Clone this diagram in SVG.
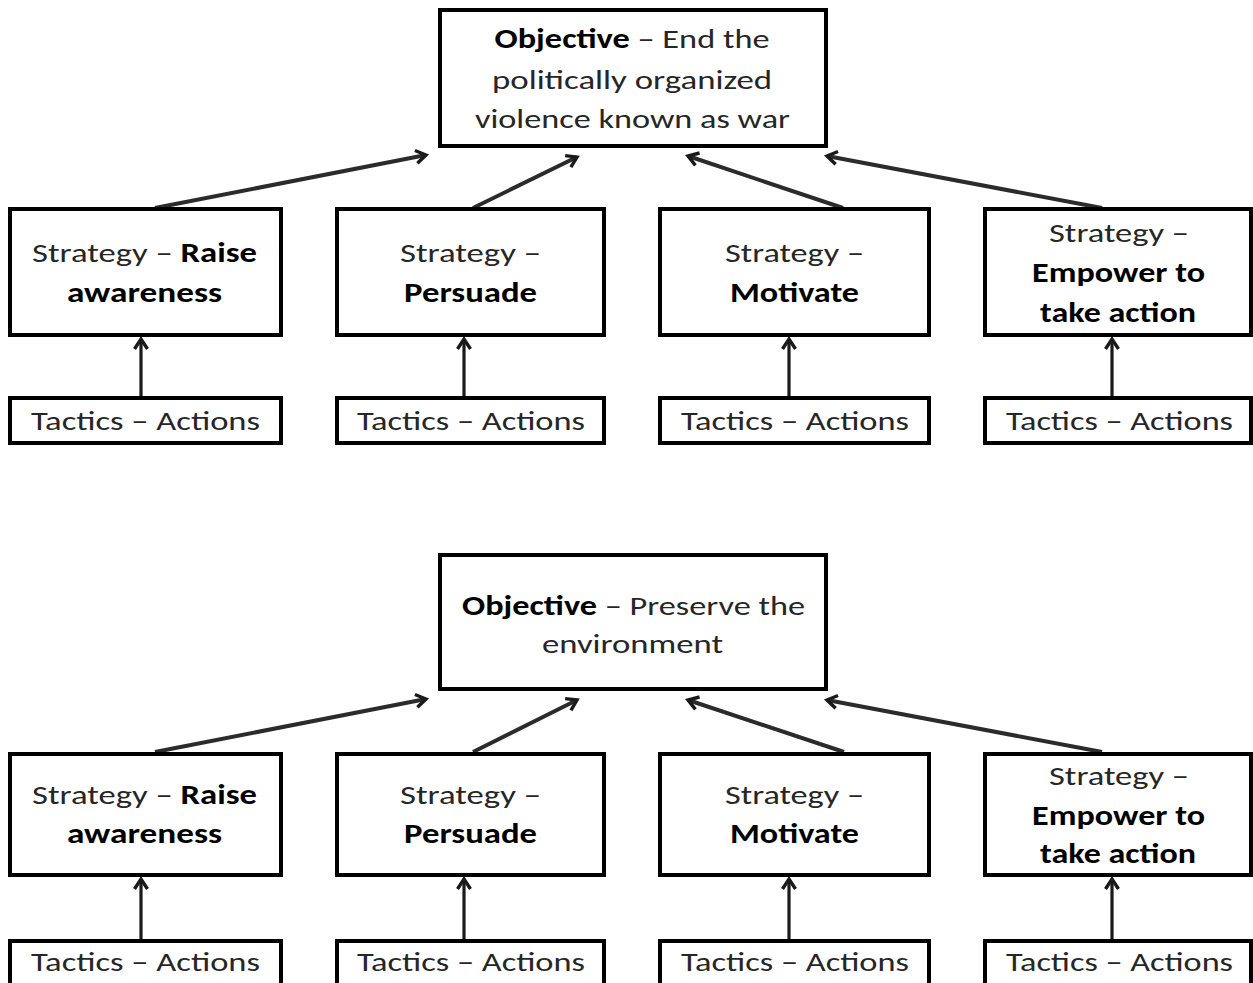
<svg xmlns="http://www.w3.org/2000/svg" width="1253" height="983" viewBox="0 0 1253 983">
<style>
.box{fill:#fff;stroke:#000;stroke-width:4}
.t{font-family:Calibri,Carlito,Lato,"Liberation Sans",sans-serif;font-size:27.5px;fill:#262626;text-anchor:middle}
.b{font-weight:bold;fill:#000}
.c{stroke:#1a1a1a;stroke-width:3.2;fill:none}
.d{stroke:#2b2b2b;stroke-width:4;fill:none}
</style>
<defs>
<marker id="ah" markerUnits="userSpaceOnUse" markerWidth="22" markerHeight="22" refX="11" refY="11" orient="auto">
<path d="M1,4.5 L11,11 L1,17.5" fill="none" stroke="#1a1a1a" stroke-width="3.4"/>
</marker>
</defs>
<rect width="1253" height="983" fill="#fff"/>

<g id="connectors">
<line class="d" x1="155" y1="208" x2="426" y2="155" marker-end="url(#ah)"/>
<line class="d" x1="473" y1="208" x2="577" y2="157" marker-end="url(#ah)"/>
<line class="d" x1="843" y1="208" x2="688" y2="156" marker-end="url(#ah)"/>
<line class="d" x1="1102" y1="208" x2="827" y2="156" marker-end="url(#ah)"/>
<line class="c" x1="141" y1="398" x2="141" y2="339" marker-end="url(#ah)"/>
<line class="c" x1="464" y1="398" x2="464" y2="339" marker-end="url(#ah)"/>
<line class="c" x1="789" y1="398" x2="789" y2="339" marker-end="url(#ah)"/>
<line class="c" x1="1112" y1="398" x2="1112" y2="339" marker-end="url(#ah)"/>

<line class="d" x1="155" y1="752" x2="426" y2="699" marker-end="url(#ah)"/>
<line class="d" x1="473" y1="752" x2="577" y2="700" marker-end="url(#ah)"/>
<line class="d" x1="844" y1="752" x2="688" y2="700" marker-end="url(#ah)"/>
<line class="d" x1="1102" y1="752" x2="827" y2="700" marker-end="url(#ah)"/>
<line class="c" x1="141" y1="941" x2="141" y2="879" marker-end="url(#ah)"/>
<line class="c" x1="464" y1="941" x2="464" y2="879" marker-end="url(#ah)"/>
<line class="c" x1="789" y1="941" x2="789" y2="879" marker-end="url(#ah)"/>
<line class="c" x1="1112" y1="941" x2="1112" y2="879" marker-end="url(#ah)"/>
</g>

<g id="objective1">
<rect class="box" x="440" y="10" width="386" height="136"/>
<text class="t" x="632" y="48" textLength="275" lengthAdjust="spacingAndGlyphs"><tspan class="b">Objective</tspan> – End the</text>
<text class="t" x="632" y="89" textLength="280" lengthAdjust="spacingAndGlyphs">politically organized</text>
<text class="t" x="632.5" y="128" textLength="315" lengthAdjust="spacingAndGlyphs">violence known as war</text>
</g>

<g id="strategy1a">
<rect class="box" x="10" y="209" width="271" height="126"/>
<text class="t" x="144.5" y="262" textLength="225" lengthAdjust="spacingAndGlyphs">Strategy – <tspan class="b">Raise</tspan></text>
<text class="t b" x="144.5" y="302" textLength="155" lengthAdjust="spacingAndGlyphs">awareness</text>
</g>
<g id="strategy2a">
<rect class="box" x="337" y="209" width="267" height="126"/>
<text class="t" x="470.5" y="262" textLength="141" lengthAdjust="spacingAndGlyphs">Strategy –</text>
<text class="t b" x="470.5" y="302" textLength="133" lengthAdjust="spacingAndGlyphs">Persuade</text>
</g>
<g id="strategy3a">
<rect class="box" x="660" y="209" width="269" height="126"/>
<text class="t" x="794.5" y="262" textLength="139" lengthAdjust="spacingAndGlyphs">Strategy –</text>
<text class="t b" x="794.5" y="302" textLength="129" lengthAdjust="spacingAndGlyphs">Motivate</text>
</g>
<g id="strategy4a">
<rect class="box" x="985" y="209" width="266" height="126"/>
<text class="t" x="1119" y="242" textLength="140" lengthAdjust="spacingAndGlyphs">Strategy –</text>
<text class="t b" x="1118.5" y="282" textLength="173" lengthAdjust="spacingAndGlyphs">Empower to</text>
<text class="t b" x="1118" y="322" textLength="156" lengthAdjust="spacingAndGlyphs">take action</text>
</g>

<g id="tactics1a"><rect class="box" x="10" y="398" width="271" height="45"/><text class="t" x="145.5" y="430" textLength="229" lengthAdjust="spacingAndGlyphs">Tactics – Actions</text></g>
<g id="tactics2a"><rect class="box" x="337" y="398" width="267" height="45"/><text class="t" x="471" y="430" textLength="228" lengthAdjust="spacingAndGlyphs">Tactics – Actions</text></g>
<g id="tactics3a"><rect class="box" x="660" y="398" width="269" height="45"/><text class="t" x="795" y="430" textLength="228" lengthAdjust="spacingAndGlyphs">Tactics – Actions</text></g>
<g id="tactics4a"><rect class="box" x="985" y="398" width="266" height="45"/><text class="t" x="1119.5" y="430" textLength="227" lengthAdjust="spacingAndGlyphs">Tactics – Actions</text></g>

<g id="objective2">
<rect class="box" x="440" y="555" width="386" height="134"/>
<text class="t" x="633.5" y="615" textLength="343" lengthAdjust="spacingAndGlyphs"><tspan class="b">Objective</tspan> – Preserve the</text>
<text class="t" x="632.5" y="653" textLength="181" lengthAdjust="spacingAndGlyphs">environment</text>
</g>

<g id="strategy1b">
<rect class="box" x="10" y="754" width="271" height="121"/>
<text class="t" x="144.5" y="804" textLength="225" lengthAdjust="spacingAndGlyphs">Strategy – <tspan class="b">Raise</tspan></text>
<text class="t b" x="144.5" y="843" textLength="155" lengthAdjust="spacingAndGlyphs">awareness</text>
</g>
<g id="strategy2b">
<rect class="box" x="337" y="754" width="267" height="121"/>
<text class="t" x="470.5" y="804" textLength="141" lengthAdjust="spacingAndGlyphs">Strategy –</text>
<text class="t b" x="470.5" y="843" textLength="133" lengthAdjust="spacingAndGlyphs">Persuade</text>
</g>
<g id="strategy3b">
<rect class="box" x="660" y="754" width="269" height="121"/>
<text class="t" x="794.5" y="804" textLength="139" lengthAdjust="spacingAndGlyphs">Strategy –</text>
<text class="t b" x="794.5" y="843" textLength="129" lengthAdjust="spacingAndGlyphs">Motivate</text>
</g>
<g id="strategy4b">
<rect class="box" x="985" y="754" width="266" height="121"/>
<text class="t" x="1119" y="785" textLength="140" lengthAdjust="spacingAndGlyphs">Strategy –</text>
<text class="t b" x="1118.5" y="825" textLength="173" lengthAdjust="spacingAndGlyphs">Empower to</text>
<text class="t b" x="1118" y="863" textLength="156" lengthAdjust="spacingAndGlyphs">take action</text>
</g>

<g id="tactics1b"><rect class="box" x="10" y="941" width="271" height="50"/><text class="t" x="145.5" y="971" textLength="229" lengthAdjust="spacingAndGlyphs">Tactics – Actions</text></g>
<g id="tactics2b"><rect class="box" x="337" y="941" width="267" height="50"/><text class="t" x="471" y="971" textLength="228" lengthAdjust="spacingAndGlyphs">Tactics – Actions</text></g>
<g id="tactics3b"><rect class="box" x="660" y="941" width="269" height="50"/><text class="t" x="795" y="971" textLength="228" lengthAdjust="spacingAndGlyphs">Tactics – Actions</text></g>
<g id="tactics4b"><rect class="box" x="985" y="941" width="266" height="50"/><text class="t" x="1119.5" y="971" textLength="227" lengthAdjust="spacingAndGlyphs">Tactics – Actions</text></g>
</svg>
